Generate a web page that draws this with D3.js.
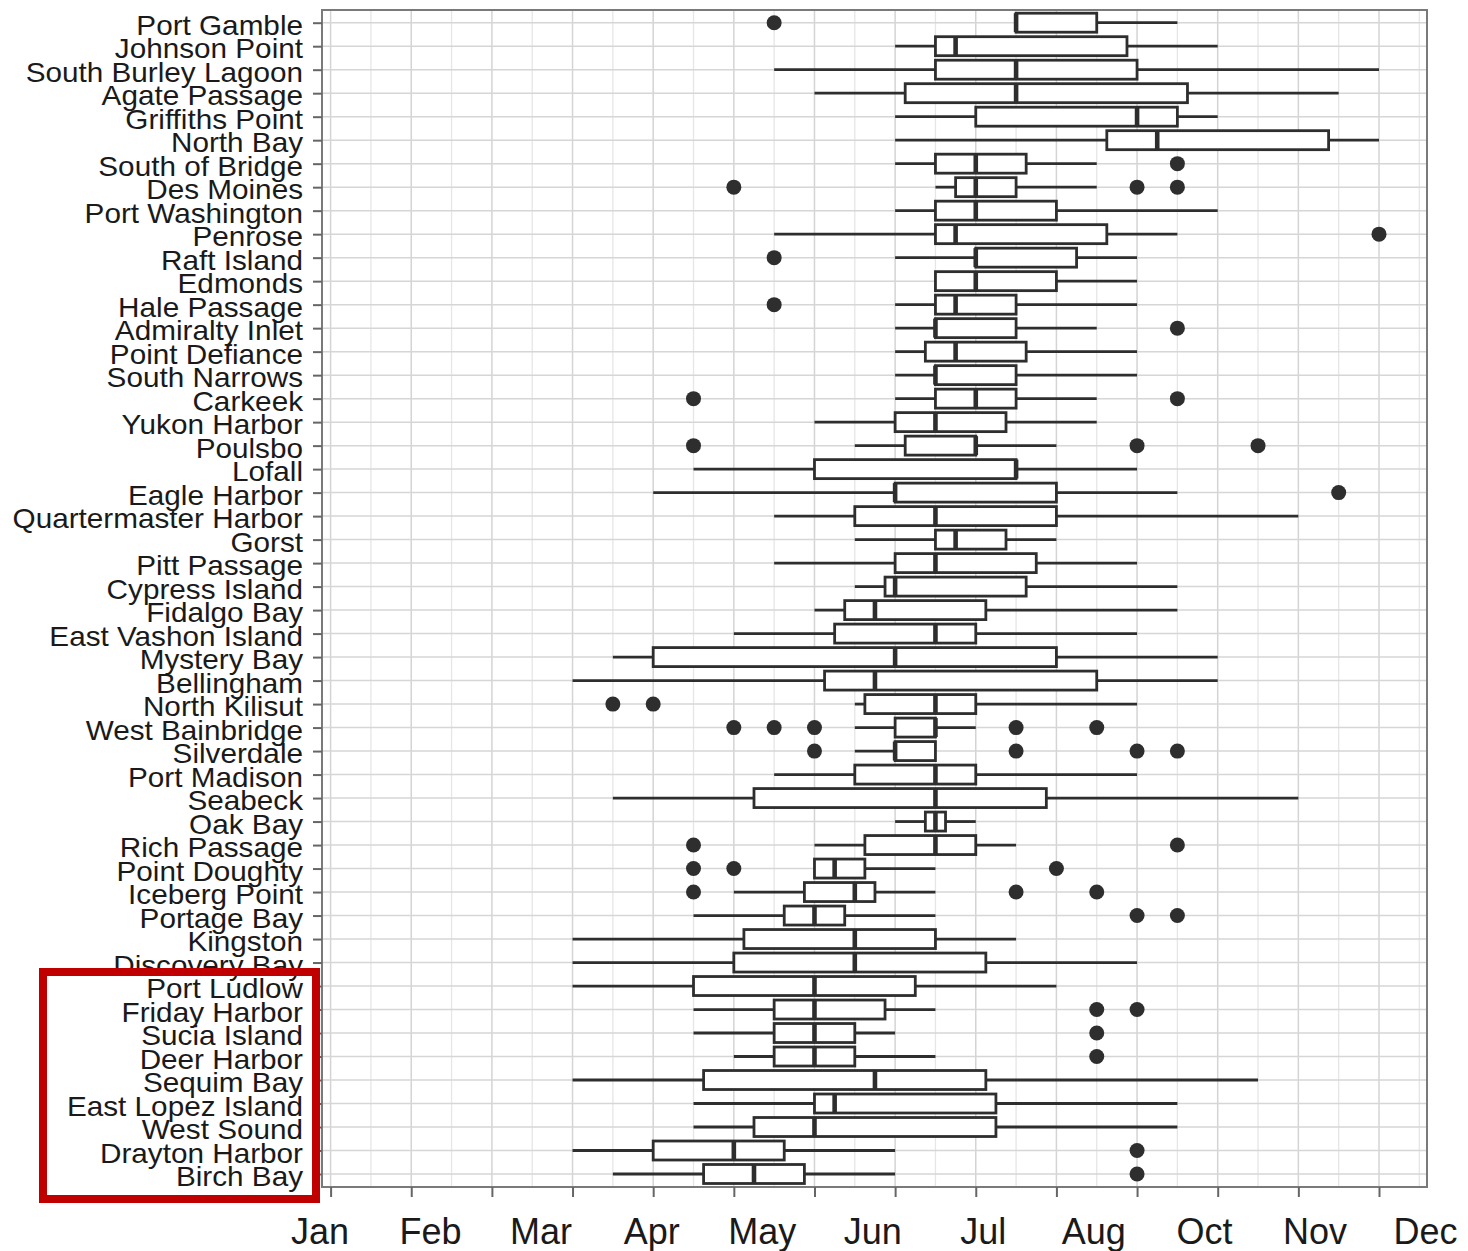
<!DOCTYPE html>
<html><head><meta charset="utf-8">
<script src="https://cdn.jsdelivr.net/npm/d3@7"></script>
<style>body{margin:0;background:#fff}</style>
</head><body>
<svg id="chart" width="1468" height="1251"></svg>
<script>
// ---- data (x values in weeks of year) ----
const sites = ["Port Gamble","Johnson Point","South Burley Lagoon","Agate Passage","Griffiths Point","North Bay","South of Bridge","Des Moines","Port Washington","Penrose","Raft Island","Edmonds","Hale Passage","Admiralty Inlet","Point Defiance","South Narrows","Carkeek","Yukon Harbor","Poulsbo","Lofall","Eagle Harbor","Quartermaster Harbor","Gorst","Pitt Passage","Cypress Island","Fidalgo Bay","East Vashon Island","Mystery Bay","Bellingham","North Kilisut","West Bainbridge","Silverdale","Port Madison","Seabeck","Oak Bay","Rich Passage","Point Doughty","Iceberg Point","Portage Bay","Kingston","Discovery Bay","Port Ludlow","Friday Harbor","Sucia Island","Deer Harbor","Sequim Bay","East Lopez Island","West Sound","Drayton Harbor","Birch Bay"];
const whiskerLow  = [34,28,22,24,28,28,28,30,28,22,28,30,28,28,28,28,28,24,26,18,16,22,26,22,26,24,20,14,12,26,26,26,22,14,28,24,24,20,18,12,12,12,18,18,20,12,18,18,12,14];
const q1          = [34,30,30,28.5,32,38.5,30,31,30,30,32,30,30,30,29.5,30,30,28,28.5,24,28,26,30,28,27.5,25.5,25,16,24.5,26.5,28,28,26,21,29.5,26.5,24,23.5,22.5,20.5,20,18,22,22,22,18.5,24,21,16,18.5];
const median      = [34,31,34,34,40,41,32,32,32,31,32,32,31,30,31,30,32,30,32,34,28,30,31,30,28,27,30,28,27,30,30,28,30,30,30,30,25,26,24,26,26,24,24,24,24,27,25,24,20,21];
const q3          = [38,39.5,40,42.5,42,49.5,34.5,34,36,38.5,37,36,34,34,34.5,34,34,33.5,32,34,36,36,33.5,35,34.5,32.5,32,36,38,32,30,30,32,35.5,30.5,32,26.5,27,25.5,30,32.5,29,27.5,26,26,32.5,33,33,22.5,23.5];
const whiskerHigh = [42,44,52,50,44,52,38,38,44,42,40,40,40,38,40,40,38,38,36,40,42,48,36,40,42,42,40,44,44,40,32,30,40,48,32,34,30,30,30,34,40,36,30,28,30,46,42,42,28,28];
const outliers    = [[22],[],[],[],[],[],[42],[20,40,42],[],[52],[22],[],[22],[42],[],[],[18,42],[],[18,40,46],[],[50],[],[],[],[],[],[],[],[],[14,16],[20,22,24,34,38],[24,34,40,42],[],[],[],[18,42],[18,20,36],[18,34,38],[40,42],[],[],[],[38,40],[38],[38],[],[],[],[40],[40]];
const monthLabels = ["Jan","Feb","Mar","Apr","May","Jun","Jul","Aug","Oct","Nov","Dec"];
const weekTicks = d3.range(0, 53, 4);
const minorWeeks = d3.range(2, 55, 4);

// ---- layout ----
const svg = d3.select("#chart");
const panel = {left: 322, right: 1427, top: 10, bottom: 1187};
const x = d3.scaleLinear().domain([0, 52]).range([330.6, 1379]);
const y = d3.scalePoint().domain(sites).range([22.7, 1174]);
const boxH = 19;
const ink = "#2e2e2e";

svg.append("rect").attr("width", 1468).attr("height", 1251).attr("fill", "#fff");

const g = svg.append("g");
g.selectAll("line.minor").data(minorWeeks.filter(w => x(w) < panel.right)).join("line")
  .attr("x1", d => x(d)).attr("x2", d => x(d))
  .attr("y1", panel.top).attr("y2", panel.bottom)
  .attr("stroke", "#e6e6e6").attr("stroke-width", 1.3);
g.selectAll("line.majv").data(weekTicks).join("line")
  .attr("x1", d => x(d)).attr("x2", d => x(d))
  .attr("y1", panel.top).attr("y2", panel.bottom)
  .attr("stroke", "#d4d4d4").attr("stroke-width", 1.5);
g.selectAll("line.majh").data(sites).join("line")
  .attr("x1", panel.left).attr("x2", panel.right)
  .attr("y1", d => y(d)).attr("y2", d => y(d))
  .attr("stroke", "#d6d6d6").attr("stroke-width", 1.5);

// ---- boxplots ----
const rows = sites.map((s, i) => ({s, lo: whiskerLow[i], q1: q1[i], md: median[i], q3: q3[i], hi: whiskerHigh[i], out: outliers[i]}));
const rg = svg.append("g").selectAll("g").data(rows).join("g");
rg.append("line").attr("x1", d => x(d.lo)).attr("x2", d => x(d.q1))
  .attr("y1", d => y(d.s)).attr("y2", d => y(d.s)).attr("stroke", ink).attr("stroke-width", 2.8);
rg.append("line").attr("x1", d => x(d.q3)).attr("x2", d => x(d.hi))
  .attr("y1", d => y(d.s)).attr("y2", d => y(d.s)).attr("stroke", ink).attr("stroke-width", 2.8);
rg.append("rect").attr("x", d => x(d.q1)).attr("width", d => x(d.q3) - x(d.q1))
  .attr("y", d => y(d.s) - boxH / 2).attr("height", boxH)
  .attr("fill", "#fff").attr("stroke", ink).attr("stroke-width", 2.8);
rg.append("line").attr("x1", d => x(d.md)).attr("x2", d => x(d.md))
  .attr("y1", d => y(d.s) - boxH / 2).attr("y2", d => y(d.s) + boxH / 2)
  .attr("stroke", ink).attr("stroke-width", 4.6);
rg.selectAll("circle").data(d => d.out.map(v => ({v, s: d.s}))).join("circle")
  .attr("cx", d => x(d.v)).attr("cy", d => y(d.s)).attr("r", 7.5).attr("fill", ink);

// ---- panel border ----
svg.append("rect").attr("x", panel.left).attr("y", panel.top)
  .attr("width", panel.right - panel.left).attr("height", panel.bottom - panel.top)
  .attr("fill", "none").attr("stroke", "#7a7a7a").attr("stroke-width", 2);

// ---- axes ----
const yAxis = svg.append("g").attr("transform", `translate(${panel.left},0)`)
  .call(d3.axisLeft(y).tickSize(9).tickFormat(""));
yAxis.select(".domain").remove();
yAxis.selectAll(".tick line").attr("stroke", "#666").attr("stroke-width", 2);

const xAxis = svg.append("g").attr("transform", `translate(0,${panel.bottom})`)
  .call(d3.axisBottom(x).tickValues(weekTicks).tickSize(10).tickFormat(""));
xAxis.select(".domain").remove();
xAxis.selectAll(".tick line").attr("stroke", "#666").attr("stroke-width", 2);

// y labels
svg.append("g").selectAll("text").data(sites).join("text")
  .attr("transform", d => `translate(303,${y(d) + 12}) scale(1.1,1)`)
  .attr("text-anchor", "end")
  .attr("font-family", "'Liberation Sans', Arial, sans-serif")
  .attr("font-size", 27).attr("fill", "#1a1a1a")
  .text(d => d);

// x labels (month names)
const mx = d3.scalePoint().domain(monthLabels).range([320, 1425.5]);
svg.append("g").selectAll("text").data(monthLabels).join("text")
  .attr("x", d => mx(d)).attr("y", 1244)
  .attr("text-anchor", "middle")
  .attr("font-family", "'Liberation Sans', Arial, sans-serif")
  .attr("font-size", 36).attr("fill", "#1a1a1a")
  .text(d => d);

// highlight rectangle
svg.append("rect").attr("x", 43).attr("y", 972).attr("width", 273).attr("height", 227)
  .attr("fill", "none").attr("stroke", "#c00000").attr("stroke-width", 8);
</script>
</body></html>
